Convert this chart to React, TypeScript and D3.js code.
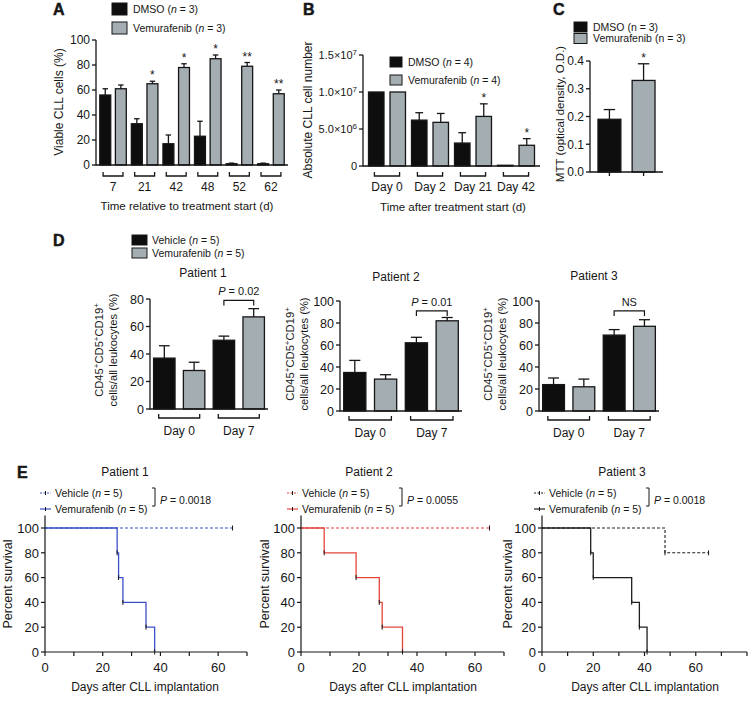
import React from "react";
import * as d3 from "d3";

const FONT = "'Liberation Sans', Arial, Helvetica, sans-serif";
const INK = "#161616";
const BLACK_BAR = "#0e0e0e";
const GRAY_BAR = "#a3adb2";

// A: viable CLL cells (%)
const timesA = ["7", "21", "42", "48", "52", "62"];
const dmsoA = [56, 33, 17, 23, 1, 1];
const dmsoErrA = [5, 4, 7, 12, 0.5, 0.5];
const vemA = [61, 65, 78, 85, 79, 57];
const vemErrA = [3, 2, 3, 3, 3, 3];
const sigA = ["", "*", "*", "*", "**", "**"];
const ticksA = [0, 20, 40, 60, 80, 100];

// B: absolute CLL cell number
const daysB = ["Day 0", "Day 2", "Day 21", "Day 42"];
const dmsoB = [1.0e7, 6.2e6, 3.1e6, 1.0e5];
const dmsoErrB = [0, 1.0e6, 1.4e6, 0];
const vemB = [1.0e7, 5.9e6, 6.7e6, 2.8e6];
const vemErrB = [0, 1.2e6, 1.7e6, 0.9e6];
const sigB = ["", "", "*", "*"];
const ticksB = [0, 5e6, 1e7, 1.5e7];
const tickMantB = ["0", "5.0", "1.0", "1.5"];
const tickExpB = ["", "6", "7", "7"];

// C: MTT
const groupC = [""];
const dmsoC = [0.19];
const dmsoErrC = [0.035];
const vemC = [0.33];
const vemErrC = [0.06];
const sigC = ["*"];
const ticksC = [0, 0.1, 0.2, 0.3, 0.4];

// D: CD45+CD5+CD19+ cells
const daysD = ["Day 0", "Day 7"];
const vehD1 = [37, 50];
const vehErrD1 = [9, 3];
const vemD1 = [28, 67];
const vemErrD1 = [6, 6];
const vehD2 = [35, 62];
const vehErrD2 = [11, 5];
const vemD2 = [29, 82];
const vemErrD2 = [4, 3];
const vehD3 = [24, 69];
const vehErrD3 = [6, 5];
const vemD3 = [22, 77];
const vemErrD3 = [7, 6];
const noteD = ["0.02", "0.01", "NS"];
const ticksD1 = [0, 20, 40, 60, 80];
const ticksD = [0, 20, 40, 60, 80, 100];

// E: survival (days, percent)
const vehDaysE1 = [0, 65];
const vehSurvE1 = [100, 100];
const vemDaysE1 = [0, 25, 25.5, 27, 35, 38];
const vemSurvE1 = [100, 80, 60, 40, 20, 0];
const vehDaysE2 = [0, 65];
const vehSurvE2 = [100, 100];
const vemDaysE2 = [0, 8, 19, 27, 28, 35];
const vemSurvE2 = [100, 80, 60, 40, 20, 0];
const vehDaysE3 = [0, 48, 65];
const vehSurvE3 = [100, 80, 80];
const vemDaysE3 = [0, 19, 20, 35, 38, 41];
const vemSurvE3 = [100, 80, 60, 40, 20, 0];
const pValuesE = ["0.0018", "0.0055", "0.0018"];
const ticksE = [0, 20, 40, 60, 80, 100];

const N = (props: { n: string }) => (
  <>
    (<tspan fontStyle="italic">n</tspan> = {props.n})
  </>
);

function Letter({ x, y, t }: any) {
  return (
    <text x={x} y={y} fontSize={16} fontWeight={900} fill={INK} stroke={INK} strokeWidth={0.5}>
      {t}
    </text>
  );
}

function BoxLegend({ x, y, dy, w, h, items, italic = true }: any) {
  return (
    <g fontSize={10.5}>
      {items.map((it: any, i: number) => (
        <g key={i}>
          <rect x={x} y={y + i * dy} width={w} height={h} fill={it.fill} stroke={INK} strokeWidth={1} />
          <text x={x + w + 6} y={y + i * dy + h / 2 + 3.8} fill={INK}>
            {it.label}{" "}
            {italic ? <N n={it.n} /> : `(n = ${it.n})`}
          </text>
        </g>
      ))}
    </g>
  );
}

function BarPanel(p: any) {
  const y = d3.scaleLinear().domain([0, p.max]).range([p.yBase, p.yTop]);
  const gx = d3
    .scaleBand<string>()
    .domain(p.groups)
    .range([p.x0, p.x1])
    .paddingInner(p.padIn)
    .paddingOuter(p.padOut);
  const keys = p.series.map((_: any, i: number) => "s" + i);
  const bx = d3.scaleBand<string>().domain(keys).range([0, gx.bandwidth()]).paddingInner(p.barPad);
  const w = bx.bandwidth();
  const els: any[] = [];
  p.groups.forEach((g: string, gi: number) => {
    p.series.forEach((s: any, si: number) => {
      const bxPos = (gx(g) as number) + (bx(keys[si]) as number);
      const cx = bxPos + w / 2;
      const v = s.v[gi];
      const e = s.e[gi];
      els.push(
        <rect key={`r${gi}-${si}`} x={bxPos} y={y(v)} width={w} height={p.yBase - y(v)}
          fill={s.fill} stroke={INK} strokeWidth={1.3} />
      );
      if (e > 0) {
        els.push(
          <g key={`e${gi}-${si}`} stroke={INK} strokeWidth={1.3}>
            <line x1={cx} x2={cx} y1={y(v)} y2={y(v + e)} />
            <line x1={cx - w / 4} x2={cx + w / 4} y1={y(v + e)} y2={y(v + e)} />
          </g>
        );
      }
      if (p.xTicks) {
        els.push(<line key={`t${gi}-${si}`} x1={cx} x2={cx} y1={p.yBase} y2={p.yBase + 4} stroke={INK} strokeWidth={1.3} />);
      }
      if (p.marks && si === p.series.length - 1 && p.marks[gi]) {
        els.push(
          <text key={`m${gi}`} x={cx} y={y(v + e) - 2} textAnchor="middle" fontSize={12} fill={INK}>
            {p.marks[gi]}
          </text>
        );
      }
    });
    if (p.bracket) {
      const c = (gx(g) as number) + gx.bandwidth() / 2;
      const hw = (gx.bandwidth() * p.bracketFrac) / 2;
      const by = p.yBase + p.bracketDy;
      els.push(
        <path key={`b${gi}`} d={`M${c - hw},${by - 4}V${by}H${c + hw}V${by - 4}`} fill="none" stroke={INK} strokeWidth={1.3} />
      );
      els.push(
        <text key={`l${gi}`} x={c} y={p.yBase + p.labelDy} textAnchor="middle" fontSize={p.labelSize} fill={INK}>
          {g}
        </text>
      );
    }
  });
  let note = null;
  if (p.note) {
    const g = p.groups[p.note.group];
    const c0 = (gx(g) as number) + (bx(keys[0]) as number) + w / 2;
    const c1 = (gx(g) as number) + (bx(keys[keys.length - 1]) as number) + w / 2;
    const ny = y(p.note.level);
    note = (
      <g>
        <path d={`M${c0},${ny + 5}V${ny}H${c1}V${ny + 5}`} fill="none" stroke={INK} strokeWidth={1.2} />
        <text x={(c0 + c1) / 2} y={ny - 5} textAnchor="middle" fontSize={11} fill={INK}>
          {p.note.text === "NS" ? "NS" : (
            <>
              <tspan fontStyle="italic">P</tspan> = {p.note.text}
            </>
          )}
        </text>
      </g>
    );
  }
  return (
    <g>
      {els}
      {note}
      <line x1={p.x0} x2={p.x1} y1={p.yBase} y2={p.yBase} stroke={INK} strokeWidth={1.3} />
      <line x1={p.x0} x2={p.x0} y1={p.yBase + 0.6} y2={y(p.max)} stroke={INK} strokeWidth={1.3} />
      {p.ticks.map((t: number) => (
        <g key={t}>
          <line x1={p.x0 - 4} x2={p.x0} y1={y(t)} y2={y(t)} stroke={INK} strokeWidth={1.3} />
          <text x={p.x0 - 6} y={y(t) + p.tickSize * 0.36} textAnchor="end" fontSize={p.tickSize} fill={INK}>
            {p.tickText(t)}
          </text>
        </g>
      ))}
    </g>
  );
}

function YLabel({ x, y, size, children }: any) {
  return (
    <text transform={`translate(${x},${y}) rotate(-90)`} textAnchor="middle" fontSize={size} fill={INK}>
      {children}
    </text>
  );
}

function CdLabel({ x, y }: any) {
  return (
    <g>
      <YLabel x={x} y={y} size={11.2}>
        CD45<tspan dy={-4} fontSize={8}>+</tspan>
        <tspan dy={4}>CD5</tspan>
        <tspan dy={-4} fontSize={8}>+</tspan>
        <tspan dy={4}>CD19</tspan>
        <tspan dy={-4} fontSize={8}>+</tspan>
      </YLabel>
      <YLabel x={x + 14} y={y} size={11.2}>
        cells/all leukocytes (%)
      </YLabel>
    </g>
  );
}

function Survival(p: any) {
  const x = d3.scaleLinear().domain([0, p.xMax]).range([p.x0, p.x1]);
  const y = d3.scaleLinear().domain([0, 110]).range([652, 515.6]);
  const line = d3
    .line<number[]>()
    .x((d) => x(d[0]))
    .y((d) => y(d[1]))
    .curve(d3.curveStepAfter);
  const veh = p.vehT.map((t: number, i: number) => [t, p.vehS[i]]);
  const vem = p.vemT.map((t: number, i: number) => [t, p.vemS[i]]);
  const marks = (pts: number[][]) =>
    pts
      .filter((d, i) => i > 0 && (d[1] < pts[i - 1][1] || i === pts.length - 1))
      .map((d, i) => (
        <line key={i} x1={x(d[0])} x2={x(d[0])} y1={y(d[1]) - 2.5} y2={y(d[1]) + 2.5} stroke={INK} strokeWidth={1} />
      ));
  const xt = d3.range(0, p.xMax + 1, 10);
  const lx = p.legX;
  return (
    <g>
      <text x={p.titleX} y={476} textAnchor="middle" fontSize={12} fill={INK}>
        {p.title}
      </text>
      <g fontSize={10.5} fill={INK}>
        <line x1={lx - 15} x2={lx - 4} y1={493} y2={493} stroke={p.color} strokeWidth={1} strokeDasharray="2,1.5" />
        <line x1={lx - 9.5} x2={lx - 9.5} y1={491} y2={495} stroke={INK} strokeWidth={1} />
        <text x={lx} y={497}>
          Vehicle <N n="5" />
        </text>
        <line x1={lx - 15} x2={lx - 4} y1={509} y2={509} stroke={p.color} strokeWidth={1.2} />
        <line x1={lx - 9.5} x2={lx - 9.5} y1={507} y2={511} stroke={INK} strokeWidth={1} />
        <text x={lx} y={513}>
          Vemurafenib <N n="5" />
        </text>
        <path d={`M${lx + 97},488H${lx + 100}V506H${lx + 97}`} fill="none" stroke={INK} strokeWidth={1} />
        <text x={lx + 105} y={504}>
          <tspan fontStyle="italic">P</tspan> = {p.pval}
        </text>
      </g>
      <path d={line(veh) as string} fill="none" stroke={p.color} strokeWidth={1.1} strokeDasharray="3,2" />
      <path d={line(vem) as string} fill="none" stroke={p.color} strokeWidth={1.3} />
      {marks(veh)}
      {marks(vem)}
      <line x1={p.x0} x2={p.x1} y1={652} y2={652} stroke={INK} strokeWidth={1.2} />
      <line x1={p.x0} x2={p.x0} y1={652} y2={515.6} stroke={INK} strokeWidth={1.2} />
      {ticksE.map((t) => (
        <g key={t}>
          <line x1={p.x0 - 4} x2={p.x0} y1={y(t)} y2={y(t)} stroke={INK} strokeWidth={1.2} />
          <text x={p.x0 - 6} y={y(t) + 4.7} textAnchor="end" fontSize={13} fill={INK}>
            {t}
          </text>
        </g>
      ))}
      {xt.map((t) => (
        <g key={t}>
          <line x1={x(t)} x2={x(t)} y1={652} y2={656} stroke={INK} strokeWidth={1.2} />
          {t % 20 === 0 && t <= 60 ? (
            <text x={x(t)} y={672} textAnchor="middle" fontSize={13} fill={INK}>
              {t}
            </text>
          ) : null}
        </g>
      ))}
      <YLabel x={p.yLabX} y={584} size={12.5}>
        Percent survival
      </YLabel>
      <text x={p.xLabX} y={691} textAnchor="middle" fontSize={12} fill={INK}>
        Days after CLL implantation
      </text>
    </g>
  );
}

export default function App() {
  const legend2 = (n: string) => [
    { fill: BLACK_BAR, label: "DMSO", n },
    { fill: GRAY_BAR, label: "Vemurafenib", n },
  ];
  const dPanel = (
    x0: number, x1: number, yBase: number, yTop: number, max: number, ticks: number[],
    veh: number[], vehE: number[], vem: number[], vemE: number[], note: string, level: number
  ) => (
    <BarPanel
      x0={x0} x1={x1} yBase={yBase} yTop={yTop} max={max} ticks={ticks}
      tickText={(t: number) => t} tickSize={12.5}
      groups={daysD}
      series={[
        { v: veh, e: vehE, fill: BLACK_BAR },
        { v: vem, e: vemE, fill: GRAY_BAR },
      ]}
      padIn={0.14} padOut={0.06} barPad={0.28}
      bracket bracketFrac={0.8} bracketDy={9} labelDy={26} labelSize={12}
      note={{ group: 1, text: note, level }}
    />
  );
  return (
    <svg width={750} height={703} style={{ position: "absolute", left: 0, top: 0, background: "#fff" }} fontFamily={FONT}>
      {/* A */}
      <Letter x={53} y={15} t="A" />
      <BoxLegend x={112} y={3} dy={19} w={15} h={12} items={legend2("3")} />
      <BarPanel
        x0={96} x1={288} yBase={165} yTop={40} max={100} ticks={ticksA}
        tickText={(t: number) => t} tickSize={12}
        groups={timesA}
        series={[
          { v: dmsoA, e: dmsoErrA, fill: BLACK_BAR },
          { v: vemA, e: vemErrA, fill: GRAY_BAR },
        ]}
        padIn={0.16} padOut={0.12} barPad={0.3}
        marks={sigA}
        bracket bracketFrac={0.75} bracketDy={11} labelDy={26} labelSize={12}
      />
      <YLabel x={63} y={102} size={12}>Viable CLL cells (%)</YLabel>
      <text x={187} y={210} textAnchor="middle" fontSize={11.5} fill={INK}>
        Time relative to treatment start (d)
      </text>

      {/* B */}
      <Letter x={303} y={15} t="B" />
      <BoxLegend x={390} y={57} dy={18} w={12} h={10} items={legend2("4")} />
      <BarPanel
        x0={363} x1={540} yBase={166} yTop={55} max={1.5e7} ticks={ticksB}
        tickText={(t: number) => {
          const i = ticksB.indexOf(t);
          return (
            <>
              {tickMantB[i]}
              {tickExpB[i] ? (
                <>
                  ×10<tspan dy={-4} fontSize={8}>{tickExpB[i]}</tspan>
                </>
              ) : null}
            </>
          );
        }}
        tickSize={11}
        groups={daysB}
        series={[
          { v: dmsoB, e: dmsoErrB, fill: BLACK_BAR },
          { v: vemB, e: vemErrB, fill: GRAY_BAR },
        ]}
        padIn={0.14} padOut={0.128} barPad={0.28}
        marks={sigB}
        bracket bracketFrac={0.68} bracketDy={10} labelDy={25} labelSize={12}
      />
      <YLabel x={312} y={110} size={12}>Absolute CLL cell number</YLabel>
      <text x={453} y={211} textAnchor="middle" fontSize={11.5} fill={INK}>
        Time after treatment start (d)
      </text>

      {/* C */}
      <Letter x={553} y={15} t="C" />
      <BoxLegend x={574} y={22} dy={11.5} w={13} h={10} items={legend2("3")} italic={false} />
      <BarPanel
        x0={590} x1={663} yBase={172} yTop={61} max={0.4} ticks={ticksC}
        tickText={(t: number) => t.toFixed(1)} tickSize={12}
        groups={groupC}
        series={[
          { v: dmsoC, e: dmsoErrC, fill: BLACK_BAR },
          { v: vemC, e: vemErrC, fill: GRAY_BAR },
        ]}
        padIn={0} padOut={0.14} barPad={0.33}
        marks={sigC} xTicks
      />
      <YLabel x={564} y={114} size={11.5}>MTT (optical density, O.D.)</YLabel>

      {/* D */}
      <Letter x={53} y={246} t="D" />
      <g fontSize={10.5}>
        <rect x={132} y={235} width={15} height={10} fill={BLACK_BAR} stroke={INK} />
        <text x={152} y={244} fill={INK}>Vehicle <N n="5" /></text>
        <rect x={132} y={248} width={15} height={10} fill={GRAY_BAR} stroke={INK} />
        <text x={152} y={257} fill={INK}>Vemurafenib <N n="5" /></text>
      </g>
      <text x={203} y={277} textAnchor="middle" fontSize={12} fill={INK}>Patient 1</text>
      <text x={396} y={281} textAnchor="middle" fontSize={12} fill={INK}>Patient 2</text>
      <text x={594} y={280} textAnchor="middle" fontSize={12} fill={INK}>Patient 3</text>
      {dPanel(150, 268, 409, 299, 80, ticksD1, vehD1, vehErrD1, vemD1, vemErrD1, noteD[0], 79)}
      {dPanel(340, 462, 411, 301, 100, ticksD, vehD2, vehErrD2, vemD2, vemErrD2, noteD[1], 91)}
      {dPanel(539, 659, 411, 301, 100, ticksD, vehD3, vehErrD3, vemD3, vemErrD3, noteD[2], 91)}
      <CdLabel x={103} y={350} />
      <CdLabel x={294} y={354} />
      <CdLabel x={492} y={354} />

      {/* E */}
      <Letter x={17} y={478} t="E" />
      <Survival
        x0={45} x1={247} xMax={70} color="#3b50c8" title="Patient 1" titleX={125}
        legX={55} pval={pValuesE[0]}
        vehT={vehDaysE1} vehS={vehSurvE1} vemT={vemDaysE1} vemS={vemSurvE1}
        yLabX={12} xLabX={145}
      />
      <Survival
        x0={301} x1={504} xMax={70} color="#e4463e" title="Patient 2" titleX={369}
        legX={302} pval={pValuesE[1]}
        vehT={vehDaysE2} vehS={vehSurvE2} vemT={vemDaysE2} vemS={vemSurvE2}
        yLabX={269} xLabX={403}
      />
      <Survival
        x0={542} x1={747} xMax={80} color="#1e1e1e" title="Patient 3" titleX={622}
        legX={549} pval={pValuesE[2]}
        vehT={vehDaysE3} vehS={vehSurvE3} vemT={vemDaysE3} vemS={vemSurvE3}
        yLabX={512} xLabX={645}
      />
    </svg>
  );
}
